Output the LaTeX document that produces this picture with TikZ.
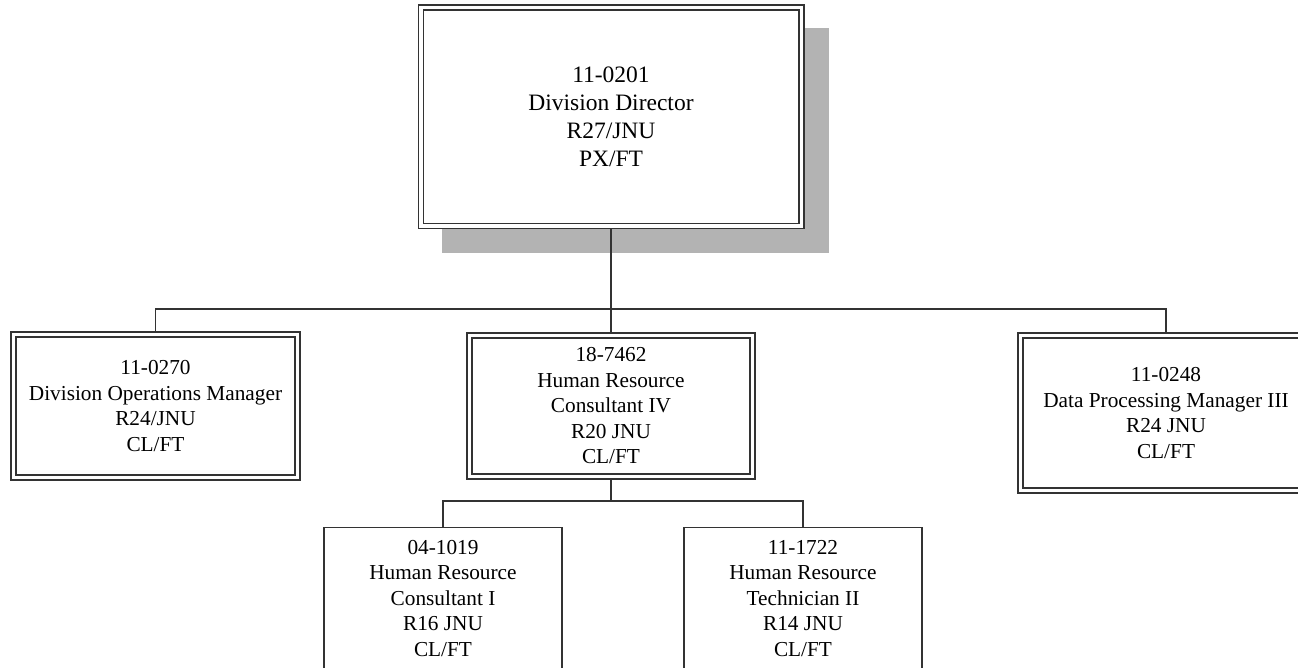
\documentclass[tikz,border=0pt]{standalone}
\usepackage{fontspec}
\setmainfont{Liberation Serif}
\usetikzlibrary{backgrounds}
\definecolor{shadowgray}{HTML}{B3B3B3}
\definecolor{linegray}{HTML}{333333}
\tikzset{
  posbox/.style={draw=linegray, line width=1.5pt, fill=white, align=center,
    inner sep=0pt, outer sep=0.75pt, font=\fontsize{21.3}{25.5}\selectfont},
  dblbox/.style={posbox, double, double distance=3.5pt, outer sep=3.25pt},
  lowbox/.style={posbox, minimum width=238pt, anchor=north, inner ysep=13pt, text depth=30pt},
  link/.style={draw=linegray, line width=1.9pt}
}

\begin{document}
\begin{tikzpicture}[x=1pt,y=-1pt]
  \useasboundingbox (0,0) rectangle (1298,668);
  \clip (0,0) rectangle (1298,668);

  % director
  \node[dblbox, minimum width=380.5pt, minimum height=218.5pt,
    font=\fontsize{23.5}{28}\selectfont] (top) at (611,117)
    {11-0201\\Division Director\\R27/JNU\\PX/FT};
  \begin{scope}[on background layer]
    \fill[shadowgray] ([shift={(24,24)}]top.north west) rectangle ([shift={(24,24)}]top.south east);
  \end{scope}

  % second row
  \node[dblbox, minimum width=284pt, minimum height=143pt] (ops) at (155.5,406)
    {11-0270\\Division Operations Manager\\R24/JNU\\CL/FT};
  \node[dblbox, minimum width=283pt, minimum height=141pt] (hr) at (611,406)
    {18-7462\\Human Resource\\Consultant IV\\R20 JNU\\CL/FT};
  \node[dblbox, minimum width=291pt, minimum height=155pt] (dp) at (1166,413)
    {11-0248\\Data Processing Manager III\\R24 JNU\\CL/FT};

  % third row
  \node[lowbox] (cons) at (443,526.5)
    {04-1019\\Human Resource\\Consultant I\\R16 JNU\\CL/FT};
  \node[lowbox] (tech) at (803,526.5)
    {11-1722\\Human Resource\\Technician II\\R14 JNU\\CL/FT};

  % connectors
  \coordinate (topbus) at (611,309);
  \coordinate (hrbus) at (611,501);
  \draw[link] (top.south) -- (top.south |- topbus);
  \draw[link] (ops.north) |- (topbus) -| (dp.north);
  \draw[link] (hr.north) -- (hr.north |- topbus);
  \draw[link] (hr.south) -- (hr.south |- hrbus);
  \draw[link] (cons.north) |- (hrbus) -| (tech.north);
\end{tikzpicture}
\end{document}
